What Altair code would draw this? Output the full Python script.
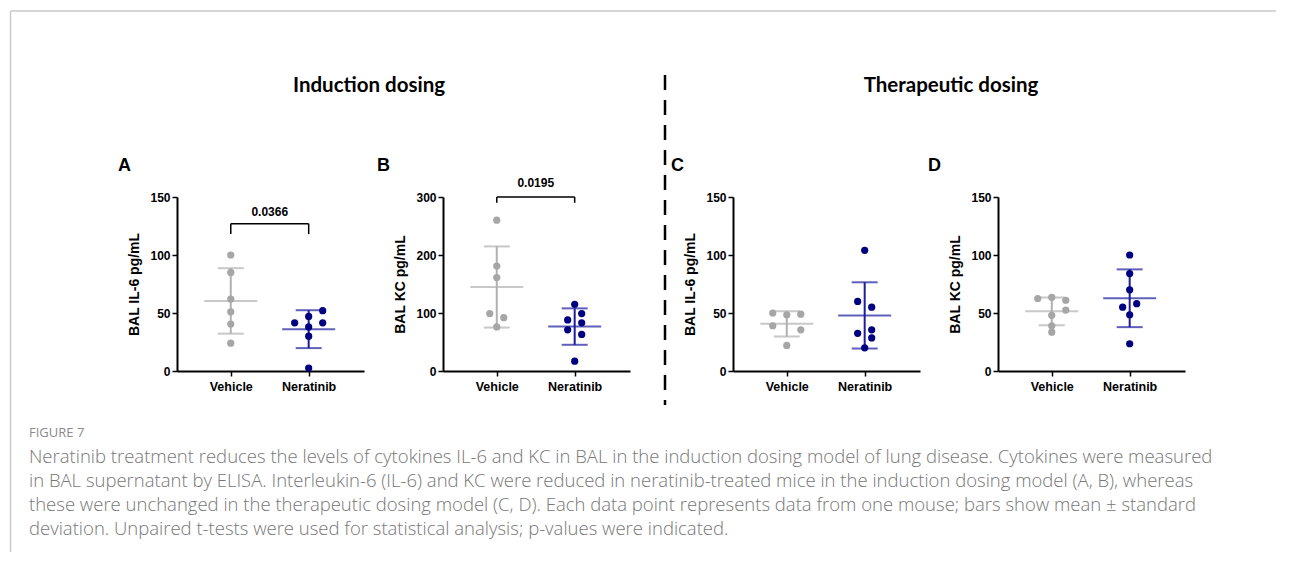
import altair as alt
import pandas as pd

# ---------------- data ----------------
groups = ["Vehicle", "Neratinib"]

# panel A : BAL IL-6, induction dosing
A_vehicle = [100, 85, 62, 51, 40.5, 24]
A_vehicle_col = [0, 0, 0, 0, 0, 0]
A_neratinib = [52, 41.5, 41.5, 47, 38, 30, 2.5]
A_neratinib_col = [2, -2, 2, 0, 0, 0, 0]

# panel B : BAL KC, induction dosing
B_vehicle = [260, 181, 161, 99, 92, 76]
B_vehicle_col = [0, 0, 0, -1, 1, 0]
B_neratinib = [115, 99, 88, 83, 71, 63, 17]
B_neratinib_col = [0, 1, -1, 1, -1, 1, 0]

# panel C : BAL IL-6, therapeutic dosing
C_vehicle = [50, 48.5, 49, 39, 35.5, 22]
C_vehicle_col = [-2, 0, 2, -2, 2, 0]
C_neratinib = [104, 60, 55, 32.5, 35.5, 28.5, 20]
C_neratinib_col = [0, -1, 1, -1, 1, 1, 0]

# panel D : BAL KC, therapeutic dosing
D_vehicle = [62.5, 63.5, 61, 52.5, 48, 33.5, 39]
D_vehicle_col = [-2, 0, 2, 2, 0, 0, 0]
D_neratinib = [100, 84, 70, 55, 58, 48.5, 23.5]
D_neratinib_col = [0, 0, 0, -1, 1, 0, 0]

y_max = [150, 300, 150, 150]
y_ticks = [[0, 50, 100, 150], [0, 100, 200, 300], [0, 50, 100, 150], [0, 50, 100, 150]]
y_titles = ["BAL IL-6 pg/mL", "BAL KC pg/mL", "BAL IL-6 pg/mL", "BAL KC pg/mL"]
panel_labels = ["A", "B", "C", "D"]

# significance brackets (panel A and B)
bracket_top = [127, 300]
bracket_bottom = [118, 290]
bracket_text = ["0.0366", "0.0195"]
bracket_text_y = [137, 325]

section_titles = ["Induction dosing", "Therapeutic dosing"]

caption_lines = [
    "FIGURE 7",
    "Neratinib treatment reduces the levels of cytokines IL-6 and KC in BAL in the induction dosing model of lung disease. Cytokines were measured",
    "in BAL supernatant by ELISA. Interleukin-6 (IL-6) and KC were reduced in neratinib-treated mice in the induction dosing model (A, B), whereas",
    "these were unchanged in the therapeutic dosing model (C, D). Each data point represents data from one mouse; bars show mean \u00b1 standard",
    "deviation. Unpaired t-tests were used for statistical analysis; p-values were indicated.",
]

# ---------------- styling ----------------
W, H = 187, 174
STEP = 0.09  # horizontal swarm step (in category units)
AX_FONT = "Liberation Sans"
GREY_PT, GREY_LN = "#a6a6a6", "#b0b0b0"
NAVY_PT, NAVY_LN = "#000080", "#1c1c9c"

pt_color = f"datum.g == 'Vehicle' ? '{GREY_PT}' : '{NAVY_PT}'"
ln_color = f"datum.g == 'Vehicle' ? '{GREY_LN}' : '{NAVY_LN}'"
grp_pos = "datum.g == 'Vehicle' ? 1 : 2"


def make_df(veh, veh_c, ner, ner_c):
    rows = [{"g": "Vehicle", "v": v, "k": c} for v, c in zip(veh, veh_c)]
    rows += [{"g": "Neratinib", "v": v, "k": c} for v, c in zip(ner, ner_c)]
    return pd.DataFrame(rows)


def panel(df, idx, label_dx, title_offset, bracket=None):
    xscale = alt.Scale(domain=[0.31, 2.71], nice=False, zero=False)
    xaxis = alt.Axis(values=[1, 2], labelExpr="datum.value == 1 ? 'Vehicle' : 'Neratinib'",
                     title=None, grid=False, labelFont=AX_FONT, labelFontSize=12.5,
                     labelFontWeight="bold", labelColor="black", domainColor="black",
                     domainWidth=2, tickColor="black", tickWidth=1.5, tickSize=5,
                     labelPadding=4)
    yscale = alt.Scale(domain=[0, y_max[idx]], nice=False, zero=True)
    yaxis = alt.Axis(values=y_ticks[idx], title=y_titles[idx], grid=False,
                     labelFont=AX_FONT, labelFontSize=12, labelFontWeight="bold",
                     labelColor="black", domainColor="black", domainWidth=2,
                     tickColor="black", tickWidth=1.5, tickSize=5, labelPadding=2,
                     titleFont=AX_FONT, titleFontSize=14, titleFontWeight="bold",
                     titleColor="black", titlePadding=8)

    def X(f):
        return alt.X(f, scale=xscale, axis=xaxis)

    def Y(f):
        return alt.Y(f, scale=yscale, axis=yaxis)

    base = alt.Chart(df)
    pts = base.transform_calculate(
        xpos=f"({grp_pos}) + datum.k * {STEP}", pc=pt_color
    ).mark_circle(size=52, opacity=1).encode(
        x=X("xpos:Q"), y=Y("v:Q"), color=alt.Color("pc:N", scale=None)
    )
    stats = base.transform_aggregate(
        m="mean(v)", sd="stdev(v)", groupby=["g"]
    ).transform_calculate(
        xpos=grp_pos, lo="datum.m - datum.sd", hi="datum.m + datum.sd", lc=ln_color
    )
    col = alt.Color("lc:N", scale=None)
    bar = stats.mark_rule(strokeWidth=2).encode(x=X("xpos:Q"), y=Y("lo:Q"), y2="hi:Q", color=col)
    mean_t = stats.mark_tick(orient="horizontal", size=53, thickness=2).encode(
        x=X("xpos:Q"), y=Y("m:Q"), color=col)
    caps = stats.transform_fold(["lo", "hi"], as_=["which", "cv"]).mark_tick(
        orient="horizontal", size=26, thickness=2).encode(x=X("xpos:Q"), y=Y("cv:Q"), color=col)

    layers = [bar, mean_t, caps, pts]
    if bracket is not None:
        bdf = pd.DataFrame([bracket])
        bb = alt.Chart(bdf).transform_calculate(x1="1", x2="2", xm="1.5")
        hl = bb.mark_rule(color="black", strokeWidth=1.5).encode(
            x=X("x1:Q"), x2="x2:Q", y=Y("yt:Q"))
        legs = bb.transform_fold(["x1", "x2"], as_=["w", "xv"]).mark_rule(
            color="black", strokeWidth=1.5).encode(x=X("xv:Q"), y=Y("yb:Q"), y2="yt:Q")
        txt = bb.mark_text(font=AX_FONT, fontSize=12, fontWeight="bold", color="black",
                           baseline="middle").encode(x=X("xm:Q"), y=Y("ty:Q"), text="txt:N")
        layers += [hl, legs, txt]

    return alt.layer(*layers).properties(
        width=W, height=H,
        title=alt.TitleParams(panel_labels[idx], anchor="start", frame="group", dx=label_dx,
                              offset=title_offset, font=AX_FONT, fontSize=18,
                              fontWeight="bold", color="black"),
    )


pA = panel(make_df(A_vehicle, A_vehicle_col, A_neratinib, A_neratinib_col), 0, -59, 16,
           {"yt": bracket_top[0], "yb": bracket_bottom[0], "txt": bracket_text[0], "ty": bracket_text_y[0]})
pB = panel(make_df(B_vehicle, B_vehicle_col, B_neratinib, B_neratinib_col), 1, -66, 2,
           {"yt": bracket_top[1], "yb": bracket_bottom[1], "txt": bracket_text[1], "ty": bracket_text_y[1]})
pC = panel(make_df(C_vehicle, C_vehicle_col, C_neratinib, C_neratinib_col), 2, -62, 16)
pD = panel(make_df(D_vehicle, D_vehicle_col, D_neratinib, D_neratinib_col), 3, -70, 16)

# ---------------- spacers carrying titles, divider, caption, frame ----------------
one = alt.Chart(pd.DataFrame({"a": [0]}))


def sec_title(t, xc):
    return one.mark_text(font="Lato", fontSize=20.5, fontWeight="bold", color="black",
                         align="center", baseline="middle", text=t).encode(
        x=alt.value(xc), y=alt.value(-111))


cap_df = pd.DataFrame({"i": list(range(len(caption_lines))), "t": caption_lines})
cy = alt.Y("i:Q", scale=alt.Scale(domain=[0, 4], range=[236, 332]), axis=None)
cap_base = alt.Chart(cap_df)
fig_lbl = cap_base.transform_filter("datum.i == 0").mark_text(
    align="left", baseline="middle", font="Open Sans", fontSize=13, color="#8a8a8a"
).encode(x=alt.value(-335), y=cy, text="t:N")
cap_txt = cap_base.transform_filter("datum.i > 0").mark_text(
    align="left", baseline="middle", font="Open Sans", fontSize=18.5, fontWeight=300, color="#777777"
).encode(x=alt.value(-335), y=cy, text="t:N")
frame_top = one.mark_rule(color="#d6d6d6", strokeWidth=2).encode(
    x=alt.value(-353.5), x2=alt.value(912), y=alt.value(-186))
frame_left = one.mark_rule(color="#cccccc", strokeWidth=1.5).encode(
    x=alt.value(-353.5), y=alt.value(-186), y2=alt.value(355))

sp1 = alt.layer(frame_top, frame_left, sec_title(section_titles[0], 5), fig_lbl, cap_txt
                ).properties(width=79, height=H)

divider = one.mark_rule(color="black", strokeWidth=2.5, strokeDash=[15, 10]).encode(
    x=alt.value(35), y=alt.value(-122), y2=alt.value(208))
sp2 = alt.layer(divider).properties(width=103, height=H)

sp3 = alt.layer(sec_title(section_titles[1], 31)).properties(width=78, height=H)

chart = alt.hconcat(pA, sp1, pB, sp2, pC, sp3, pD, spacing=0, bounds="flush").properties(
    padding={"left": 1, "top": 2, "right": 0, "bottom": 0}, background="white"
).configure_view(stroke=None)

chart.save("out.html", embed_options={"renderer": "svg", "actions": False})
